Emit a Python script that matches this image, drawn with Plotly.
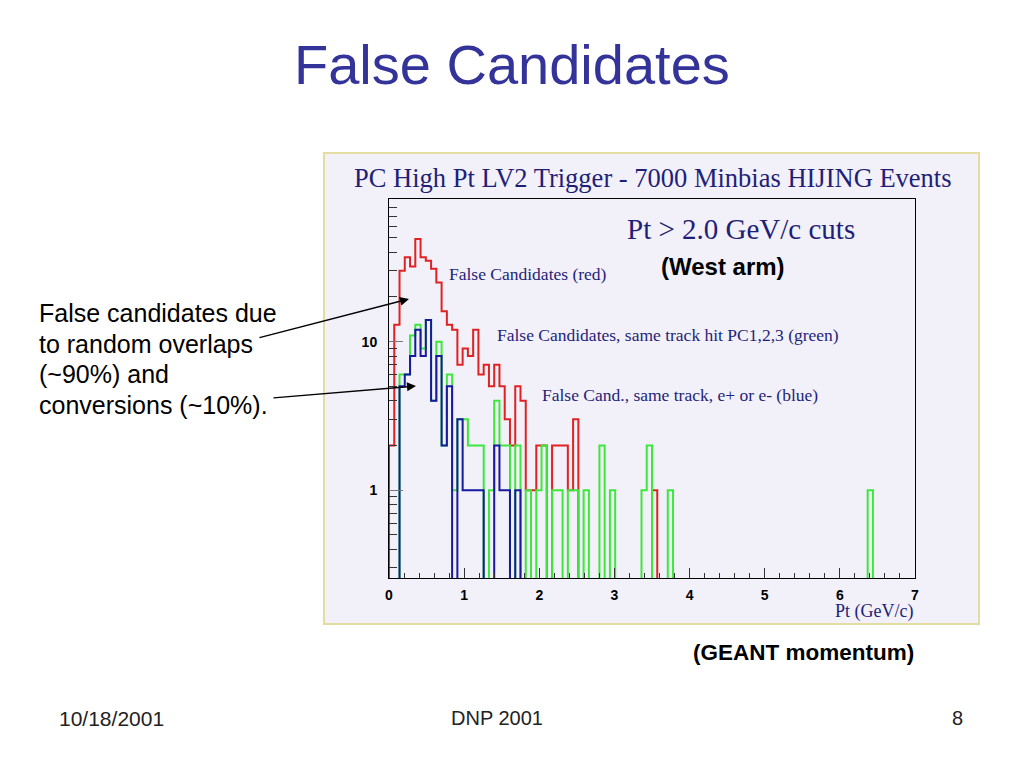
import numpy as np
import plotly.graph_objects as go

# histogram binning: 100 bins of 0.07 GeV/c between 0 and 7
pt_min = 0.0
pt_max = 7.0
n_bins = 100

# counts per bin (trailing bins are empty)
red_counts = [2, 13, 30, 37, 32, 49, 37, 35, 31, 25,
              16, 13, 12, 7, 9, 8, 12, 6, 7, 5,
              7, 5, 3, 2, 5, 4, 1, 1, 2, 2,
              0, 2, 2, 2, 1, 3, 0, 0, 0, 0,
              0, 0, 0, 0, 0, 0, 0, 0, 0, 0,
              1]
green_counts = [0, 0, 6, 6, 11, 13, 9, 14, 4, 10,
                2, 6, 1, 3, 3, 2, 2, 2, 0, 1,
                4, 2, 2, 0, 2, 0, 1, 0, 1, 2,
                0, 1, 1, 0, 1, 1, 0, 1, 0, 0,
                2, 0, 1, 0, 0, 0, 0, 0, 1, 2,
                0, 0, 0, 1, 0, 0, 0, 0, 0, 0,
                0, 0, 0, 0, 0, 0, 0, 0, 0, 0,
                0, 0, 0, 0, 0, 0, 0, 0, 0, 0,
                0, 0, 0, 0, 0, 0, 0, 0, 0, 0,
                0, 1]
blue_counts = [0, 0, 5, 6, 8, 12, 8, 14, 4, 8,
               2, 5, 0, 3, 1, 1, 1, 1, 0, 0,
               2, 1, 1, 0, 1]

x_tick_vals = [0, 1, 2, 3, 4, 5, 6, 7]
y_tick_vals = [1, 10]
y_tick_text = ["<b>1</b>", "<b>10</b>"]
y_minor_vals = [0.3, 0.4, 0.5, 0.6, 0.7, 0.8, 0.9,
                2, 3, 4, 5, 6, 7, 8, 9, 20, 30, 40, 50, 60, 70, 80, 90]

Y_LOG_RANGE = [-0.591, 1.960]
FLOOR = 10 ** (Y_LOG_RANGE[0] - 0.2)  # empty bins go below the frame
NAVY = "#1f1f78"
BG = "#f2f0f9"
SANS = "Liberation Sans, Arial"
SERIF = "Liberation Serif, Times New Roman"

edges = np.linspace(pt_min, pt_max, n_bins + 1)


def step_xy(counts):
    """ROOT-like step outline starting and ending at the bottom."""
    c = list(counts) + [0] * (n_bins - len(counts))
    c = [v if v > 0 else FLOOR for v in c]
    xs = [edges[0]] + list(edges)
    ys = [FLOOR] + c + [FLOOR]
    return xs, ys


# plot frame in page pixels; the page body adds an 8px margin
L, R, T, B = 389, 915, 199, 578
PAGE_OFF = 8


def px(x):
    return (x - L) / (R - L)


def py(y):
    return (B - y) / (B - T)


fig = go.Figure()
for counts, color in [(red_counts, "#e02222"),
                      (green_counts, "#3de83d"),
                      (blue_counts, "#1818a0")]:
    xs, ys = step_xy(counts)
    fig.add_trace(go.Scatter(x=xs, y=ys, mode="lines", line_shape="hv",
                             line=dict(color=color, width=2),
                             hoverinfo="skip", showlegend=False))

annotations = [
    dict(x=px(512), y=py(65), text="False Candidates",
         font=dict(family=SANS, size=56, color="#333399")),
    dict(x=px(653), y=py(178),
         text="PC High Pt LV2 Trigger - 7000 Minbias HIJING Events",
         font=dict(family=SERIF, size=26.5, color=NAVY)),
    dict(x=px(741), y=py(229), text="Pt &gt; 2.0 GeV/c cuts",
         font=dict(family=SERIF, size=29, color=NAVY)),
    dict(x=px(723), y=py(266), text="<b>(West arm)</b>",
         font=dict(family=SANS, size=24, color="black")),
    dict(x=px(447), y=py(274), text="False Candidates (red)", xanchor="left",
         font=dict(family=SERIF, size=17.5, color=NAVY)),
    dict(x=px(495), y=py(335),
         text="False Candidates, same track hit PC1,2,3 (green)",
         xanchor="left", font=dict(family=SERIF, size=17.5, color=NAVY)),
    dict(x=px(540), y=py(395),
         text="False Cand., same track, e+ or e- (blue)",
         xanchor="left", font=dict(family=SERIF, size=17.5, color=NAVY)),
    dict(x=px(915), y=py(611), text="Pt (GeV/c)", xanchor="right",
         font=dict(family=SERIF, size=18, color=NAVY)),
    dict(x=px(803), y=py(652), text="<b>(GEANT momentum)</b>",
         font=dict(family=SANS, size=22.5, color="black")),
    dict(x=px(111), y=py(718), text="10/18/2001",
         font=dict(family=SANS, size=21, color="#222222")),
    dict(x=px(497), y=py(718), text="DNP 2001",
         font=dict(family=SANS, size=20, color="#222222")),
    dict(x=px(957), y=py(718), text="8",
         font=dict(family=SANS, size=20, color="#222222")),
]
left_lines = ["False candidates due", "to random overlaps",
              "(~90%) and", "conversions (~10%)."]
for i, line in enumerate(left_lines):
    annotations.append(dict(x=px(37), y=py(313 + 30.5 * i), text=line,
                            xanchor="left",
                            font=dict(family=SANS, size=25, color="black")))
for a in annotations:
    a.update(xref="paper", yref="paper", showarrow=False)
    a.setdefault("xanchor", "center")
    a.setdefault("yanchor", "middle")

# arrows from the side note into the histograms
for head, tail in [((409, 299), (258, 338)), ((416, 386), (272, 398))]:
    annotations.append(dict(
        x=px(head[0]), y=py(head[1]), xref="paper", yref="paper",
        ax=tail[0] - head[0], ay=tail[1] - head[1], text="",
        showarrow=True, arrowhead=2, arrowsize=1.2, arrowwidth=1.5,
        arrowcolor="black", standoff=0))

fig.update_layout(
    width=1024,
    height=768,
    autosize=False,
    margin=dict(l=L - PAGE_OFF, r=1024 - R + PAGE_OFF,
                t=T - PAGE_OFF, b=768 - B + PAGE_OFF),
    paper_bgcolor="white",
    plot_bgcolor=BG,
    annotations=annotations,
    shapes=[dict(type="rect", xref="paper", yref="paper",
                 x0=px(324), x1=px(979), y0=py(624), y1=py(153),
                 fillcolor=BG, line=dict(color="#e4dca0", width=2),
                 layer="below")],
)
fig.update_xaxes(
    range=[pt_min, pt_max],
    tickvals=x_tick_vals,
    ticktext=["<b>%d</b>" % v for v in x_tick_vals],
    tickfont=dict(family=SANS, size=14, color="black"),
    ticks="inside", ticklen=10, tickcolor="#333333",
    minor=dict(ticks="inside", ticklen=5, dtick=0.2, tickcolor="#333333"),
    ticklabelstandoff=4,
    showline=True, linecolor="black", linewidth=1, mirror=True,
    showgrid=False, zeroline=False,
)
fig.update_yaxes(
    type="log",
    range=Y_LOG_RANGE,
    tickvals=y_tick_vals,
    ticktext=y_tick_text,
    tickfont=dict(family=SANS, size=14, color="black"),
    ticks="inside", ticklen=14, tickcolor="#777777",
    minor=dict(ticks="inside", ticklen=8, tickvals=y_minor_vals,
               tickcolor="#333333"),
    ticklabelstandoff=8,
    showline=True, linecolor="black", linewidth=1, mirror=True,
    showgrid=False, zeroline=False,
)

fig.write_html("out.html")
